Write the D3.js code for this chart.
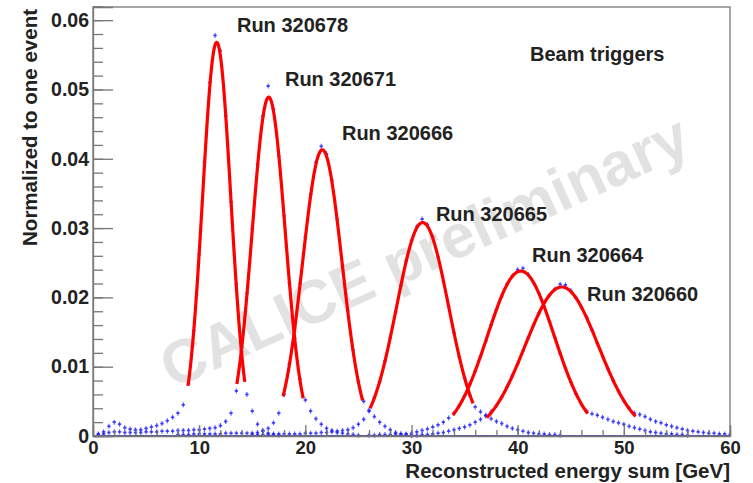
<!DOCTYPE html>
<html>
<head>
<meta charset="utf-8">
<script src="https://cdn.jsdelivr.net/npm/d3@7"></script>
<style>
  body { margin: 0; background: #fff; }
  svg text { font-family: "Liberation Sans", Arial, sans-serif; font-weight: bold; fill: #222; }
  .axis path, .axis line { stroke: #777; stroke-width: 1.3; }
</style>
</head>
<body>
<svg width="753" height="483"></svg>
<script>
'use strict';

// histogram bins: 0.5 GeV wide, each run listed from its first non-empty bin
var binWidth = 0.5;
var runNames = ["Run 320678", "Run 320671", "Run 320666", "Run 320665", "Run 320664", "Run 320660"];
var runStart = [0.5, 0.5, 8.0, 15.0, 26.0, 30.0];

var run320678 = [0.0003, 0.0006, 0.0014, 0.0020, 0.0017, 0.0012, 0.0010, 0.0009, 0.0009, 0.0011,
  0.0013, 0.0015, 0.0018, 0.0022, 0.0027, 0.0033, 0.0045, 0.0076, 0.0152, 0.0262,
  0.0395, 0.0510, 0.0578, 0.0556, 0.0462, 0.0338, 0.0219, 0.0122, 0.0060, 0.0036,
  0.0017, 0.0008, 0.0004, 0.0002, 0.0001];
var run320671 = [0.0002, 0.0003, 0.0005, 0.0006, 0.0006, 0.0005, 0.0005, 0.0005, 0.0005, 0.0006,
  0.0006, 0.0006, 0.0007, 0.0007, 0.0007, 0.0008, 0.0008, 0.0008, 0.0009, 0.0009,
  0.0010, 0.0011, 0.0012, 0.0015, 0.0021, 0.0033, 0.0065, 0.0128, 0.0206, 0.0299,
  0.0392, 0.0462, 0.0505, 0.0472, 0.0404, 0.0318, 0.0221, 0.0141, 0.0082, 0.0052,
  0.0036, 0.0025, 0.0017, 0.0011, 0.0008, 0.0005, 0.0004, 0.0003, 0.0002, 0.0001];
var run320666 = [0.0002, 0.0002, 0.0002, 0.0003, 0.0003, 0.0003, 0.0003, 0.0003, 0.0003, 0.0004,
  0.0004, 0.0004, 0.0004, 0.0004, 0.0004, 0.0005, 0.0007, 0.0011, 0.0019, 0.0033,
  0.0060, 0.0104, 0.0156, 0.0220, 0.0287, 0.0349, 0.0395, 0.0418, 0.0407, 0.0369,
  0.0313, 0.0246, 0.0181, 0.0124, 0.0079, 0.0050, 0.0037, 0.0028, 0.0020, 0.0014,
  0.0009, 0.0005, 0.0003, 0.0002, 0.0001];
var run320665 = [0.0002, 0.0002, 0.0002, 0.0002, 0.0003, 0.0003, 0.0003, 0.0003, 0.0003, 0.0003,
  0.0004, 0.0004, 0.0004, 0.0005, 0.0005, 0.0006, 0.0007, 0.0008, 0.0009, 0.0012,
  0.0017, 0.0024, 0.0036, 0.0055, 0.0078, 0.0108, 0.0142, 0.0179, 0.0217, 0.0253,
  0.0282, 0.0302, 0.0313, 0.0305, 0.0287, 0.0258, 0.0224, 0.0187, 0.0149, 0.0114,
  0.0084, 0.0059, 0.0042, 0.0035, 0.0030, 0.0025, 0.0021, 0.0018, 0.0014, 0.0011,
  0.0009, 0.0007, 0.0005, 0.0004, 0.0003, 0.0003, 0.0002, 0.0002, 0.0001];
var run320664 = [0.0001, 0.0001, 0.0002, 0.0002, 0.0002, 0.0003, 0.0003, 0.0003, 0.0004, 0.0006,
  0.0008, 0.0010, 0.0013, 0.0016, 0.0020, 0.0026, 0.0033, 0.0044, 0.0058, 0.0075,
  0.0094, 0.0115, 0.0137, 0.0160, 0.0182, 0.0202, 0.0219, 0.0231, 0.0240, 0.0242,
  0.0233, 0.0221, 0.0206, 0.0187, 0.0165, 0.0142, 0.0119, 0.0098, 0.0078, 0.0061,
  0.0046, 0.0036, 0.0032, 0.0030, 0.0027, 0.0024, 0.0021, 0.0019, 0.0017, 0.0014,
  0.0012, 0.0010, 0.0008, 0.0006, 0.0005, 0.0004, 0.0003, 0.0003, 0.0002, 0.0002,
  0.0001];
var run320660 = [0.0001, 0.0001, 0.0002, 0.0002, 0.0003, 0.0004, 0.0005, 0.0007, 0.0009, 0.0011,
  0.0013, 0.0016, 0.0020, 0.0024, 0.0029, 0.0035, 0.0044, 0.0056, 0.0071, 0.0087,
  0.0104, 0.0123, 0.0142, 0.0160, 0.0177, 0.0192, 0.0203, 0.0212, 0.0219, 0.0218,
  0.0210, 0.0199, 0.0186, 0.0171, 0.0153, 0.0134, 0.0115, 0.0097, 0.0080, 0.0065,
  0.0051, 0.0040, 0.0033, 0.0031, 0.0028, 0.0024, 0.0021, 0.0019, 0.0016, 0.0014,
  0.0012, 0.0010, 0.0008, 0.0007, 0.0006, 0.0005, 0.0004, 0.0004, 0.0003, 0.0003,
  0.0002];
var runValues = [run320678, run320671, run320666, run320665, run320664, run320660];

// gaussian fit results (mean, sigma in GeV, amplitude) and fit ranges
var fitMean  = [11.65, 16.55, 21.60, 31.05, 40.30, 44.15];
var fitSigma = [1.33, 1.55, 1.86, 2.45, 3.15, 3.45];
var fitAmp   = [0.0568, 0.0489, 0.0413, 0.0308, 0.0238, 0.0215];
var fitLo    = [8.95, 13.55, 17.90, 26.10, 33.90, 37.10];
var fitHi    = [14.30, 19.80, 25.40, 35.80, 46.60, 51.10];

var xTicks = [0, 10, 20, 30, 40, 50, 60];
var yTicks = [0, 0.01, 0.02, 0.03, 0.04, 0.05, 0.06];

var svg = d3.select("svg");
var margin = {top: 7, right: 23, bottom: 47, left: 93},
    width = 753 - margin.left - margin.right,
    height = 483 - margin.top - margin.bottom;

var g = svg.append("g")
  .attr("transform", "translate(" + margin.left + "," + margin.top + ")");

var x = d3.scaleLinear().domain([0, 60]).range([0, width]);
var y = d3.scaleLinear().domain([0, 0.0619]).range([height, 0]);

// watermark
g.append("text")
  .attr("transform", "translate(" + x(31.4) + "," + y(0.0260) + ") rotate(-24.5)")
  .attr("text-anchor", "middle")
  .attr("dominant-baseline", "middle")
  .style("font-size", "61px")
  .style("fill", "#e2e2e2")
  .text("CALICE preliminary");

// histograms: zero bins everywhere else
var histColor = "#1f1fff";
runValues.forEach(function(vals, r) {
  var bins = [];
  for (var k = 0; k <= 60 / binWidth; k++) {
    var e = k * binWidth;
    var idx = Math.round((e - runStart[r]) / binWidth);
    var v = (idx >= 0 && idx < vals.length) ? vals[idx] : 0;
    bins.push({e: e, v: v});
  }
  var hg = g.append("g").attr("class", "hist");
  hg.selectAll("line.h")
    .data(bins)
    .enter()
    .append("line")
    .attr("x1", function(d) { return x(Math.max(0, d.e - binWidth * (d.v === 0 ? 0.5 : 0.32))); })
    .attr("x2", function(d) { return x(Math.min(60, d.e + binWidth * (d.v === 0 ? 0.5 : 0.32))); })
    .attr("y1", function(d) { return y(d.v); })
    .attr("y2", function(d) { return y(d.v); })
    .attr("stroke", histColor)
    .attr("stroke-width", 1.8)
    .attr("stroke-opacity", 0.8);
  hg.selectAll("line.v")
    .data(bins.filter(function(d) { return d.v > 0; }))
    .enter()
    .append("line")
    .attr("x1", function(d) { return x(d.e); })
    .attr("x2", function(d) { return x(d.e); })
    .attr("y1", function(d) { return y(d.v) - 2.5; })
    .attr("y2", function(d) { return y(d.v) + 2.5; })
    .attr("stroke", histColor)
    .attr("stroke-width", 1.2)
    .attr("stroke-opacity", 0.7);
});

// fitted gaussians
var line = d3.line()
  .x(function(d) { return x(d[0]); })
  .y(function(d) { return y(d[1]); });

fitMean.forEach(function(m, r) {
  var pts = [];
  var n = 120;
  for (var i = 0; i <= n; i++) {
    var e = fitLo[r] + (fitHi[r] - fitLo[r]) * i / n;
    var t = (e - m) / fitSigma[r];
    pts.push([e, fitAmp[r] * Math.exp(-0.5 * t * t)]);
  }
  g.append("path")
    .attr("d", line(pts))
    .attr("fill", "none")
    .attr("stroke", "#ff0000")
    .attr("stroke-width", 3.2)
    .attr("stroke-linejoin", "round");
});

// frame
g.append("rect")
  .attr("width", width)
  .attr("height", height)
  .attr("fill", "none")
  .attr("stroke", "#777")
  .attr("stroke-width", 1.3);

// axes, ticks pointing into the frame
var yMinor = d3.range(0, 0.0621, 0.002);
var xMinor = d3.range(0, 60.01, 2);

g.append("g").attr("class", "axis")
  .call(d3.axisLeft(y).tickValues(yMinor).tickSize(-10).tickFormat(""))
  .select(".domain").remove();
g.append("g").attr("class", "axis")
  .call(d3.axisLeft(y).tickValues(yTicks).tickSize(-20).tickPadding(4)
    .tickFormat(function(d) { return d === 0 ? "0" : d3.format(".2f")(d); }))
  .selectAll("text").style("font-size", "19.5px");

g.append("g").attr("class", "axis")
  .attr("transform", "translate(0," + height + ")")
  .call(d3.axisBottom(x).tickValues(xMinor).tickSize(-6).tickFormat(""))
  .select(".domain").remove();
g.append("g").attr("class", "axis")
  .attr("transform", "translate(0," + height + ")")
  .call(d3.axisBottom(x).tickValues(xTicks).tickSize(-11).tickPadding(5))
  .selectAll("text").style("font-size", "18.5px");

// axis titles
g.append("text")
  .attr("x", width)
  .attr("y", height + 42)
  .attr("text-anchor", "end")
  .style("font-size", "20.5px")
  .text("Reconstructed energy sum [GeV]");

g.append("text")
  .attr("transform", "translate(" + (37 - margin.left) + ",2) rotate(-90)")
  .attr("text-anchor", "end")
  .style("font-size", "20.5px")
  .text("Normalized to one event");

// run labels, placed next to each peak
var labelPos = [[13.56, 0.0591], [18.08, 0.0513], [23.45, 0.0435], [32.3, 0.0318], [41.35, 0.0258], [46.53, 0.0203]];
g.selectAll(".runlabel")
  .data(runNames)
  .enter()
  .append("text")
  .attr("class", "runlabel")
  .attr("x", function(d, i) { return x(labelPos[i][0]); })
  .attr("y", function(d, i) { return y(labelPos[i][1]); })
  .attr("dominant-baseline", "middle")
  .style("font-size", "20px")
  .text(function(d) { return d; });

g.append("text")
  .attr("x", x(41.16))
  .attr("y", y(0.0549))
  .attr("dominant-baseline", "middle")
  .style("font-size", "20px")
  .text("Beam triggers");
</script>
</body>
</html>
